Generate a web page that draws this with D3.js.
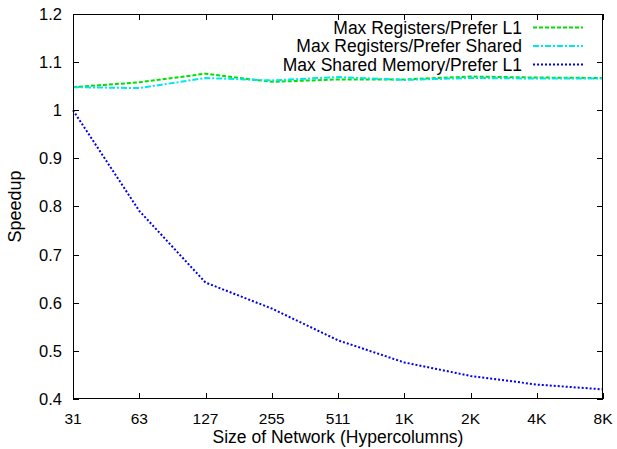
<!DOCTYPE html>
<html>
<head>
<meta charset="utf-8">
<script src="https://cdn.jsdelivr.net/npm/d3@7"></script>
<style>
  html, body { margin: 0; padding: 0; background: #fff; }
  svg { display: block; font-family: "Liberation Sans", Arial, Helvetica, sans-serif; }
</style>
</head>
<body>
<svg id="chart" width="617" height="449"></svg>
<script>
// Network sizes (hypercolumns) along the x axis
const categories = ["31", "63", "127", "255", "511", "1K", "2K", "4K", "8K"];

// Speedup for each kernel configuration
const maxRegPreferL1     = [1.048, 1.058, 1.076, 1.059, 1.064, 1.064, 1.070, 1.068, 1.067];
const maxRegPreferShared = [1.048, 1.046, 1.067, 1.062, 1.069, 1.063, 1.067, 1.066, 1.066];
const maxSharedPreferL1  = [1.000, 0.791, 0.642, 0.588, 0.522, 0.476, 0.448, 0.430, 0.420];

const seriesNames = [
  "Max Registers/Prefer L1",
  "Max Registers/Prefer Shared",
  "Max Shared Memory/Prefer L1"
];

const yTicks = [0.4, 0.5, 0.6, 0.7, 0.8, 0.9, 1.0, 1.1, 1.2];

const series = [
  { name: seriesNames[0], values: maxRegPreferL1,     color: "#00e000", dash: "4,2" },
  { name: seriesNames[1], values: maxRegPreferShared, color: "#00e5ee", dash: "6,2,2,2" },
  { name: seriesNames[2], values: maxSharedPreferL1,  color: "#0000ee", dash: "2,2" }
];

const svg = d3.select("#chart");
const W = 617, H = 449;
const margin = { left: 73, right: 14, top: 14, bottom: 50 };
const x0 = margin.left, x1 = W - margin.right;
const y0 = H - margin.bottom, y1 = margin.top;

const x = d3.scalePoint().domain(categories).range([x0, x1]);
const y = d3.scaleLinear().domain([0.4, 1.2]).range([y0, y1]);

const fmt = v => String(+v.toFixed(1));
const tickLen = 6;

// Inward ticks on all four sides
const g = svg.append("g");
yTicks.forEach(v => {
  const yy = Math.round(y(v)) + 0.5;
  g.append("line").attr("x1", x0).attr("x2", x0 + tickLen).attr("y1", yy).attr("y2", yy);
  g.append("line").attr("x1", x1 - tickLen).attr("x2", x1).attr("y1", yy).attr("y2", yy);
});
categories.forEach(c => {
  const xx = Math.round(x(c)) + 0.5;
  g.append("line").attr("x1", xx).attr("x2", xx).attr("y1", y0).attr("y2", y0 - tickLen);
  g.append("line").attr("x1", xx).attr("x2", xx).attr("y1", y1).attr("y2", y1 + tickLen);
});
g.selectAll("line").attr("stroke", "#000").attr("stroke-width", 1);

// Tick labels
svg.append("g").selectAll("text").data(yTicks).join("text")
  .attr("x", x0 - 11).attr("y", d => y(d)).attr("dy", "0.36em")
  .attr("text-anchor", "end").attr("font-size", 16.5).text(fmt);

svg.append("g").selectAll("text").data(categories).join("text")
  .attr("x", d => x(d)).attr("y", y0 + 19.5).attr("dy", "0.36em")
  .attr("text-anchor", "middle").attr("font-size", 15.5).text(d => d);

// Axis titles
svg.append("text").attr("x", (x0 + x1) / 2).attr("y", 437).attr("dy", "0.36em")
  .attr("text-anchor", "middle").attr("font-size", 17.5)
  .text("Size of Network (Hypercolumns)");
svg.append("text").attr("transform", `translate(15,${(y0 + y1) / 2}) rotate(-90)`)
  .attr("dy", "0.36em").attr("text-anchor", "middle").attr("font-size", 18)
  .text("Speedup");

// Data lines
const line = d3.line().x((d, i) => x(categories[i])).y(d => y(d));
svg.append("g").selectAll("path").data(series).join("path")
  .attr("d", d => line(d.values))
  .attr("fill", "none")
  .attr("stroke", d => d.color)
  .attr("stroke-width", 2)
  .attr("stroke-dasharray", d => d.dash);

// Legend in the top-right corner
const legend = svg.append("g");
series.forEach((s, i) => {
  const ly = 27.5 + i * 18.5;
  legend.append("text").attr("x", 522).attr("y", ly).attr("dy", "0.36em")
    .attr("text-anchor", "end").attr("font-size", 17.5).text(s.name);
  legend.append("line").attr("x1", 533).attr("x2", 583).attr("y1", ly).attr("y2", ly)
    .attr("stroke", s.color).attr("stroke-width", 2).attr("stroke-dasharray", s.dash);
});

// Plot frame
svg.append("rect").attr("x", x0 + 0.5).attr("y", y1 + 0.5)
  .attr("width", x1 - x0 - 1).attr("height", y0 - y1 - 1)
  .attr("fill", "none").attr("stroke", "#000").attr("stroke-width", 1);
</script>
</body>
</html>
